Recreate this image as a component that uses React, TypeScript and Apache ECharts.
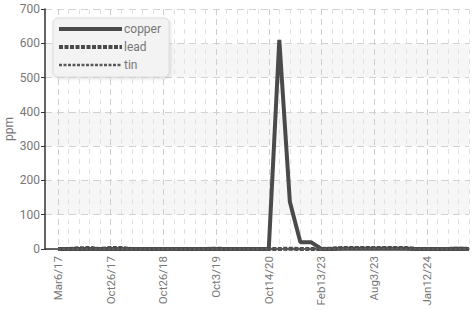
import React, { useEffect, useRef } from "react";
import * as echarts from "echarts";

const categories = [
  "Mar6/17", "Apr10/17", "May15/17", "Jun19/17", "Aug21/17",
  "Oct26/17", "Dec4/17", "Feb12/18", "Apr23/18", "Jul16/18",
  "Oct26/18", "Dec10/18", "Feb25/19", "May6/19", "Jul22/19",
  "Oct3/19", "Dec9/19", "Mar2/20", "Jun15/20", "Aug24/20",
  "Oct14/20", "Jan11/21", "Jun7/21", "Dec13/21", "Jul18/22",
  "Feb13/23", "Mar13/23", "Apr10/23", "May15/23", "Jun26/23",
  "Aug3/23", "Sep11/23", "Oct9/23", "Nov6/23", "Dec4/23",
  "Jan12/24", "Feb12/24", "Mar11/24", "Apr15/24", "May13/24",
];

const copper = [
  0, 0, 0, 0, 0, 0, 0, 0, 0, 0,
  0, 0, 0, 0, 0, 0, 0, 0, 0, 0,
  0, 610, 138, 20, 20, 0, 0, 1, 1, 1,
  1, 1, 1, 1, 0, 0, 0, 0, 1, 0,
];

const lead = [
  0, 0, 2, 3, 0, 3, 3, 0, 0, 0,
  0, 0, 0, 0, 0, 1, 0, 0, 0, 0,
  0, 0, 1, 0, 0, 0, 1, 3, 3, 3,
  3, 3, 3, 3, 0, 0, 0, 0, 1, 0,
];

const tin = [
  0, 0, 0, 0, 0, 0, 0, 0, 0, 0,
  0, 0, 0, 0, 0, 0, 0, 0, 0, 0,
  0, 0, 0, 0, 0, 0, 0, 0, 0, 0,
  0, 0, 0, 0, 0, 0, 0, 0, 0, 0,
];

const yTicks = { min: 0, max: 700, interval: 100 };

export default function App() {
  const ref = useRef<HTMLDivElement>(null);
  useEffect(() => {
    if (!ref.current) return;
    document.body.style.margin = "0";
    const chart = echarts.init(ref.current, null, { renderer: "svg" });
    const font = "Roboto, 'Liberation Sans', sans-serif";
    chart.setOption({
      animation: false,
      grid: [
        { left: 45, right: 4, top: 9, bottom: 61, outerBoundsMode: "none", containLabel: false },
        { left: 58, right: 4, top: 9, bottom: 61, outerBoundsMode: "none", containLabel: false },
      ],
      legend: {
        left: 53,
        top: 18,
        orient: "vertical",
        itemWidth: 63,
        itemHeight: 12,
        itemGap: 6,
        padding: [5, 8, 6, 4],
        backgroundColor: "#f3f3f3",
        borderColor: "#dcdcdc",
        borderWidth: 1,
        borderRadius: 5,
        shadowColor: "rgba(0,0,0,0.15)",
        shadowBlur: 3,
        shadowOffsetX: 1,
        shadowOffsetY: 1,
        itemStyle: { opacity: 0 },
        lineStyle: { width: "inherit", type: "inherit" },
        textStyle: { color: "#777", fontSize: 12, fontFamily: font, padding: [0, 0, 0, -3] },
        data: ["copper", "lead", "tin"],
      },
      xAxis: [
        {
          type: "value",
          gridIndex: 0,
          min: 0,
          max: 1,
          position: "bottom",
          axisLine: { show: true, lineStyle: { color: "#333", width: 1.5 } },
          axisTick: { show: false },
          axisLabel: { show: false },
          splitLine: { show: false },
        },
        {
          type: "category",
          gridIndex: 1,
          data: categories,
          boundaryGap: false,
          position: "bottom",
          axisLine: { show: false },
          axisTick: { show: false },
          axisLabel: { show: false },
          splitLine: {
            show: true,
            interval: 0,
            lineStyle: { color: "#e2e2e2", type: [5, 5], width: 1 },
          },
        },
        {
          type: "category",
          gridIndex: 1,
          data: categories,
          boundaryGap: false,
          position: "bottom",
          axisLine: { show: false },
          axisTick: { show: false },
          axisLabel: {
            interval: 4,
            rotate: 90,
            color: "#777",
            fontSize: 11.5,
            fontFamily: font,
            margin: 7,
          },
          splitLine: {
            show: true,
            interval: 4,
            lineStyle: { color: "#cfcfcf", type: [6, 4], width: 1 },
          },
        },
      ],
      yAxis: [
        {
          type: "value",
          gridIndex: 0,
          min: yTicks.min,
          max: yTicks.max,
          interval: yTicks.interval,
          name: "ppm",
          nameLocation: "middle",
          nameGap: 30,
          nameMoveOverlap: false,
          nameRotate: 90,
          nameTextStyle: { color: "#777", fontSize: 12, fontFamily: font },
          axisLine: { show: true, lineStyle: { color: "#333", width: 1.5 } },
          axisTick: { show: true, length: 4, lineStyle: { color: "#333" } },
          axisLabel: { color: "#777", fontSize: 12, fontFamily: font, margin: 5 },
          splitLine: {
            show: true,
            lineStyle: { color: "#d2d2d2", type: [7, 5], width: 1 },
          },
          splitArea: {
            show: true,
            areaStyle: { color: ["#ffffff", "#f6f6f6"] },
          },
        },
        {
          type: "value",
          gridIndex: 1,
          min: yTicks.min,
          max: yTicks.max,
          interval: yTicks.interval,
          show: false,
          splitLine: { show: false },
        },
      ],
      series: [
        {
          name: "copper",
          type: "line",
          xAxisIndex: 2,
          yAxisIndex: 1,
          data: copper,
          symbol: "none",
          clip: false,
          itemStyle: { color: "#4a4a4a" },
          lineStyle: { color: "#4a4a4a", width: 4 },
          z: 3,
        },
        {
          name: "lead",
          type: "line",
          xAxisIndex: 2,
          yAxisIndex: 1,
          data: lead,
          symbol: "none",
          clip: false,
          itemStyle: { color: "#4a4a4a" },
          lineStyle: { color: "#4a4a4a", width: 4, type: [4, 1.5] },
          z: 4,
        },
        {
          name: "tin",
          type: "line",
          xAxisIndex: 2,
          yAxisIndex: 1,
          data: tin,
          symbol: "none",
          clip: false,
          itemStyle: { color: "#5a5a5a" },
          lineStyle: { color: "#5a5a5a", width: 2.5, type: [3, 1.5] },
          z: 5,
        },
      ],
    });
    return () => chart.dispose();
  }, []);
  return <div ref={ref} style={{ width: 473, height: 310 }} />;
}
